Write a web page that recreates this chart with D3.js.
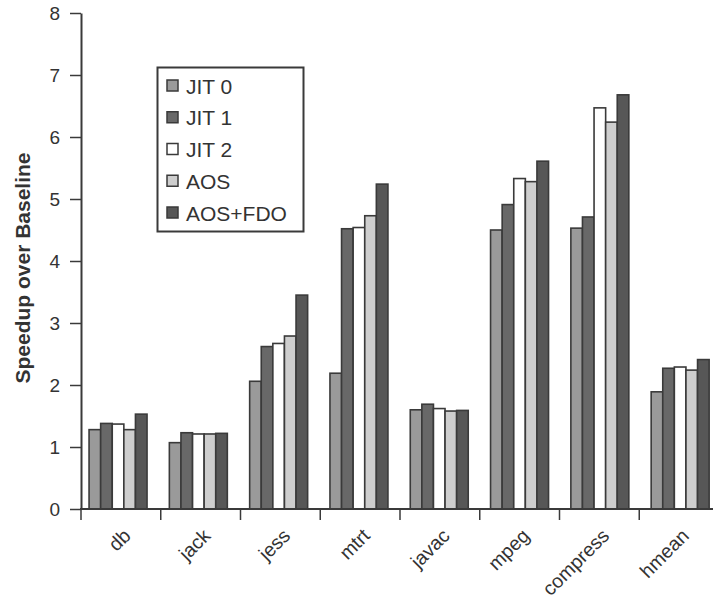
<!DOCTYPE html>
<html>
<head>
<meta charset="utf-8">
<script src="https://cdn.jsdelivr.net/npm/d3@7"></script>
<style>
  html, body { margin: 0; padding: 0; background: #fff; }
  svg { display: block; }
  text { font-family: "Liberation Sans", Arial, Helvetica, sans-serif; fill: #333; }
</style>
</head>
<body>
<svg id="chart" width="713" height="602"></svg>
<script>
const categories = ["db", "jack", "jess", "mtrt", "javac", "mpeg", "compress", "hmean"];
const seriesNames = ["JIT 0", "JIT 1", "JIT 2", "AOS", "AOS+FDO"];
const jit0   = [1.28, 1.07, 2.06, 2.19, 1.60, 4.50, 4.53, 1.89];
const jit1   = [1.38, 1.23, 2.62, 4.52, 1.69, 4.91, 4.71, 2.27];
const jit2   = [1.37, 1.21, 2.67, 4.54, 1.62, 5.33, 6.47, 2.29];
const aos    = [1.28, 1.21, 2.79, 4.73, 1.58, 5.28, 6.24, 2.24];
const aosFdo = [1.53, 1.22, 3.45, 5.24, 1.59, 5.61, 6.68, 2.41];
const yTicks = [0, 1, 2, 3, 4, 5, 6, 7, 8];
const yTitle = "Speedup over Baseline";

const seriesValues = [jit0, jit1, jit2, aos, aosFdo];
const colors = ["#9a9a9a", "#686868", "#ffffff", "#cecece", "#575757"];
const stroke = "#3a3a3a";

const svg = d3.select("#chart");

const y = d3.scaleLinear().domain([0, 8]).range([509, 13]);
// category boundaries (axis ticks)
const xAxisScale = d3.scaleBand().domain(categories).range([81, 719]).padding(0);
// bar groups
const xGroup = d3.scaleBand().domain(categories).range([77.9, 720.3])
  .paddingInner(0.278).paddingOuter(0.139);
const xBar = d3.scaleBand().domain(seriesNames).range([0, xGroup.bandwidth()]).padding(0);

// bars
categories.forEach((c, ci) => {
  const g = svg.append("g").attr("transform", `translate(${xGroup(c)},0)`);
  seriesNames.forEach((s, si) => {
    const v = seriesValues[si][ci];
    g.append("rect")
      .attr("x", xBar(s))
      .attr("y", y(v))
      .attr("width", xBar.bandwidth())
      .attr("height", y(0) - y(v))
      .attr("fill", colors[si])
      .attr("stroke", stroke)
      .attr("stroke-width", 1.6);
  });
});

// y axis
const yAxis = svg.append("g").attr("transform", "translate(81,0)")
  .call(d3.axisLeft(y).tickValues(yTicks).tickFormat(d3.format("d")).tickSize(11).tickSizeOuter(0).tickPadding(10));
yAxis.select(".domain").attr("stroke", stroke).attr("stroke-width", 2);
yAxis.selectAll(".tick line").attr("stroke", stroke).attr("stroke-width", 1.5);
yAxis.selectAll(".tick text").attr("font-size", 19).attr("fill", "#333")
  .attr("font-family", "Liberation Sans, Arial, sans-serif");

// x axis line
svg.append("line").attr("x1", 80).attr("x2", 713).attr("y1", y(0)).attr("y2", y(0))
  .attr("stroke", stroke).attr("stroke-width", 2);
// x ticks at category boundaries
svg.selectAll(".xtick").data(categories).enter().append("line")
  .attr("x1", d => xAxisScale(d)).attr("x2", d => xAxisScale(d))
  .attr("y1", y(0)).attr("y2", y(0) + 11)
  .attr("stroke", stroke).attr("stroke-width", 1.5);

// x labels
svg.selectAll(".xlab").data(categories).enter().append("text")
  .attr("transform", d => `translate(${xAxisScale(d) + xAxisScale.bandwidth() / 2 + 11},${y(0) + 28}) rotate(-45)`)
  .attr("text-anchor", "end")
  .attr("font-size", 19.5)
  .text(d => d);

// y title
svg.append("text")
  .attr("transform", "translate(30,268) rotate(-90)")
  .attr("text-anchor", "middle")
  .attr("font-size", 21)
  .attr("font-weight", "bold")
  .text(yTitle);

// legend
const legend = svg.append("g");
legend.append("rect").attr("x", 157.5).attr("y", 67.5).attr("width", 146).attr("height", 164)
  .attr("fill", "#fff").attr("stroke", stroke).attr("stroke-width", 2);
const ly = d3.scalePoint().domain(seriesNames).range([86, 213]);
seriesNames.forEach((s, si) => {
  legend.append("rect").attr("x", 167).attr("y", ly(s) - 6).attr("width", 11).attr("height", 11)
    .attr("fill", colors[si]).attr("stroke", stroke).attr("stroke-width", 1.5);
  legend.append("text").attr("x", 186).attr("y", ly(s)).attr("dy", "0.36em")
    .attr("font-size", 21).text(s);
});
</script>
</body>
</html>
